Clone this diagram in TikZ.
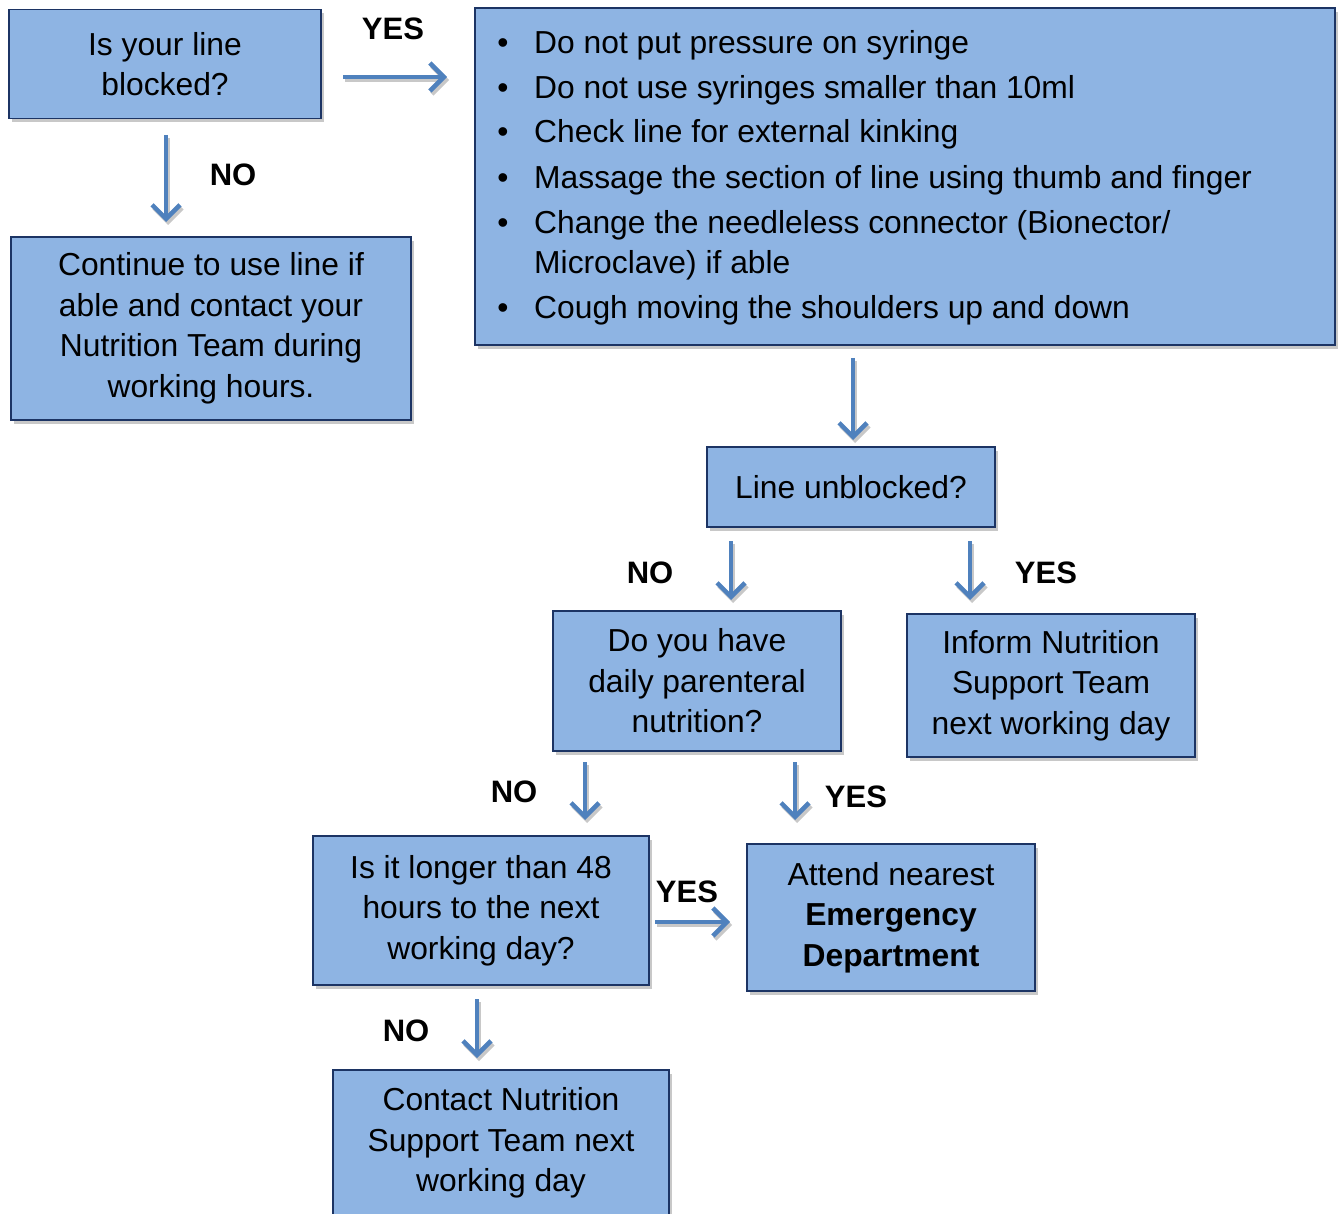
\documentclass[tikz,border=0pt]{standalone}
\usepackage{fontspec}
\setmainfont{Liberation Sans}
\usetikzlibrary{arrows.meta,shadows,calc}
\definecolor{boxfill}{RGB}{142,180,227}
\definecolor{boxdraw}{RGB}{28,52,100}
\definecolor{arrcol}{RGB}{79,129,189}
\definecolor{shadcol}{RGB}{200,200,200}
\tikzset{
  flowbox/.style={draw=boxdraw, line width=1.6pt, fill=boxfill, align=center,
    inner sep=0pt, font=\fontsize{31.8}{40.5}\selectfont,
    drop shadow={shadow xshift=3pt, shadow yshift=-4pt, fill=shadcol, opacity=1}},
  arr/.style={draw=arrcol, line width=4.5pt,
    -{Straight Barb[length=14pt,width=28pt,line width=4.5pt]}},
  arrshadow/.style={draw=shadcol, line width=4.5pt,
    -{Straight Barb[length=14pt,width=28pt,line width=4.5pt]}},
  lbl/.style={font=\fontsize{31}{36}\selectfont\bfseries},
  btxt/.style={anchor=base west, inner sep=0pt, font=\fontsize{31.8}{40}\selectfont},
  bdot/.style={anchor=base, inner sep=0pt, font=\fontsize{31.8}{40}\selectfont},
}
\newcommand{\flowarrow}[2]{%
  \draw[arrshadow] ($(#1)+(2,3)$) -- ($(#2)+(2,3)$);
  \draw[arr] (#1) -- (#2);}
\begin{document}
\begin{tikzpicture}[x=1pt,y=-1pt]
\useasboundingbox (0,0) rectangle (1338,1214);
% boxes
\node[flowbox, minimum width=312pt, minimum height=109pt] (blocked) at (165,64) {Is your line\\blocked?};
\node[flowbox, minimum width=860pt, minimum height=337pt] (actions) at (905,176.5) {};
\node[flowbox, minimum width=400pt, minimum height=183pt] (cont) at (211,328.5) {Continue to use line if\\able and contact your\\Nutrition Team during\\working hours.};
\node[flowbox, minimum width=288pt, minimum height=80pt] (unblocked) at (851,487) {Line unblocked?};
\node[flowbox, minimum width=288pt, minimum height=140pt] (daily) at (697,681) {Do you have\\daily parenteral\\nutrition?};
\node[flowbox, minimum width=288pt, minimum height=143pt] (inform) at (1051,685.5) {Inform Nutrition\\Support Team\\next working day};
\node[flowbox, minimum width=336pt, minimum height=149pt] (longer) at (481,910.5) {Is it longer than 48\\hours to the next\\working day?};
\node[flowbox, minimum width=288pt, minimum height=147pt] (attend) at (891,917.5) {Attend nearest\\\textbf{Emergency}\\\textbf{Department}};
\node[flowbox, minimum width=336pt, minimum height=150pt, anchor=north] (contact) at (501,1069) {};
\node[inner sep=0pt, align=center, font=\fontsize{31.8}{40.5}\selectfont] (contacttxt) at (501,1143) {Contact Nutrition\\Support Team next\\working day};
% bullet list
\foreach \yy/\txt [count=\i] in {54/{Do not put pressure on syringe},
  99/{Do not use syringes smaller than 10ml},
  143/{Check line for external kinking},
  189/{Massage the section of line using thumb and finger},
  234/{Change the needleless connector (Bionector/},
  319/{Cough moving the shoulders up and down}}{
  \node[bdot] (b\i) at (503,\yy) {\textbullet};
  \node[btxt] (t\i) at (534,\yy) {\txt};
}
\node[btxt] (t5b) at (534,274) {Microclave) if able};
% arrow end points
\coordinate (a1s) at (343,77);  \coordinate (a1e) at (447,77);
\coordinate (a2s) at (166,135); \coordinate (a2e) at (166,222);
\coordinate (a3s) at (853,358); \coordinate (a3e) at (853,440);
\coordinate (a4s) at (731,541); \coordinate (a4e) at (731,600);
\coordinate (a5s) at (970,541); \coordinate (a5e) at (970,600);
\coordinate (a6s) at (585,762); \coordinate (a6e) at (585,820);
\coordinate (a7s) at (795,762); \coordinate (a7e) at (795,820);
\coordinate (a8s) at (655,922); \coordinate (a8e) at (730,922);
\coordinate (a9s) at (477,999); \coordinate (a9e) at (477,1058);
\flowarrow{a1s}{a1e}
\flowarrow{a2s}{a2e}
\flowarrow{a3s}{a3e}
\flowarrow{a4s}{a4e}
\flowarrow{a5s}{a5e}
\flowarrow{a6s}{a6e}
\flowarrow{a7s}{a7e}
\flowarrow{a8s}{a8e}
\flowarrow{a9s}{a9e}
% labels
\node[lbl] (l1) at (393,29) {YES};
\node[lbl] (l2) at (233,175) {NO};
\node[lbl] (l3) at (650,573) {NO};
\node[lbl] (l4) at (1046,573) {YES};
\node[lbl] (l5) at (514,792) {NO};
\node[lbl] (l6) at (856,797) {YES};
\node[lbl] (l7) at (687,892) {YES};
\node[lbl] (l8) at (406,1031) {NO};
\end{tikzpicture}
\end{document}
